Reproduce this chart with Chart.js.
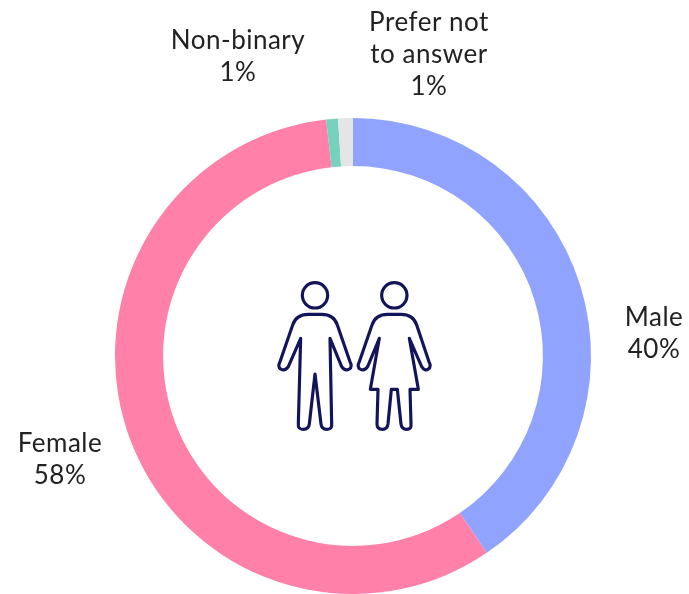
<!DOCTYPE html>
<html>
<head>
<meta charset="utf-8">
<style>html,body{margin:0;padding:0;background:#fff}#w{position:relative;width:689px;height:594px}</style>
<script src="https://cdn.jsdelivr.net/npm/chart.js@4"></script>
</head>
<body>
<div id="w"><canvas id="c" width="689" height="594"></canvas></div>
<script>
const categories = ["Male", "Female", "Non-binary", "Prefer not to answer"];
const values = [40.5, 57.7, 0.8, 1.0];
const valueLabels = ["40%", "58%", "1%", "1%"];
const colors = ["#90A4FF", "#FF80A8", "#76D1BD", "#E5E5E5"];

const labelLines = [["Male"], ["Female"], ["Non-binary"], ["Prefer not", "to answer"]];
const labelAnchors = [[654, 318], [60, 444], [238, 41], [429, 23]];
const lineHeight = 32;
const ink = "#14145A";

const P = new Path2D();
function poly(pts, dx) {
  pts.forEach((p, i) => {
    if (p.length === 2) { i ? P.lineTo(p[0] + dx, p[1]) : P.moveTo(p[0] + dx, p[1]); }
    else P.quadraticCurveTo(p[0] + dx, p[1], p[2] + dx, p[3]);
  });
  P.closePath();
}
P.moveTo(205, 76); P.arc(165, 76, 38, 0, 2 * Math.PI);
P.moveTo(441, 76); P.arc(403, 76, 38, 0, 2 * Math.PI);
poly([[122,205],[115,462],[113,478,130,478],[146,478,148,462],[165,312],[183,462],[185,478,200,478],[217,478,215,462],[210,205],
      [245,290],[255,305,268,297],[278,290,270,275],[232,165],[222,133,185,133],[145,133],[108,133,98,165],[60,275],[52,290,62,297],[75,305,85,290]],0);
poly([[358,205],[331,358],[354,358],[351,462],[351,478,367,478],[382,478,384,462],[394,358],[412,358],[423,462],[425,478,440,478],[455,478,453,462],[450,358],[475,358],[448,205],
      [485,290],[495,305,505,297],[515,290,507,275],[470,165],[460,133,423,133],[383,133],[346,133,336,165],[298,275],[290,290,300,297],[313,305,323,290]],0);

const overlay = {
  id: "overlay",
  afterDraw(chart) {
    const ctx = chart.ctx;
    ctx.save();
    ctx.fillStyle = "#222222";
    ctx.font = "400 26px Lato";
    ctx.letterSpacing = "0.5px";
    ctx.textAlign = "center";
    ctx.textBaseline = "middle";
    categories.forEach((_, i) => {
      const [x, y] = labelAnchors[i];
      const lines = labelLines[i].concat(valueLabels[i]);
      lines.forEach((t, k) => ctx.fillText(t, x, y + k * lineHeight));
    });
    ctx.restore();
    ctx.save();
    ctx.translate(260, 270);
    ctx.scale(1 / 3, 1 / 3);
    ctx.strokeStyle = ink;
    ctx.lineWidth = 9.5;
    ctx.lineJoin = "round";
    ctx.stroke(P);
    ctx.restore();
  }
};

new Chart(document.getElementById("c"), {
  type: "doughnut",
  data: { labels: categories, datasets: [{ data: values, backgroundColor: colors, borderWidth: 0 }] },
  options: {
    responsive: false,
    animation: false,
    cutout: "79.8%",
    layout: { padding: { left: 115, right: 98, top: 118, bottom: 0 } },
    plugins: { legend: { display: false }, tooltip: { enabled: false } }
  },
  plugins: [overlay]
});
</script>
</body>
</html>
